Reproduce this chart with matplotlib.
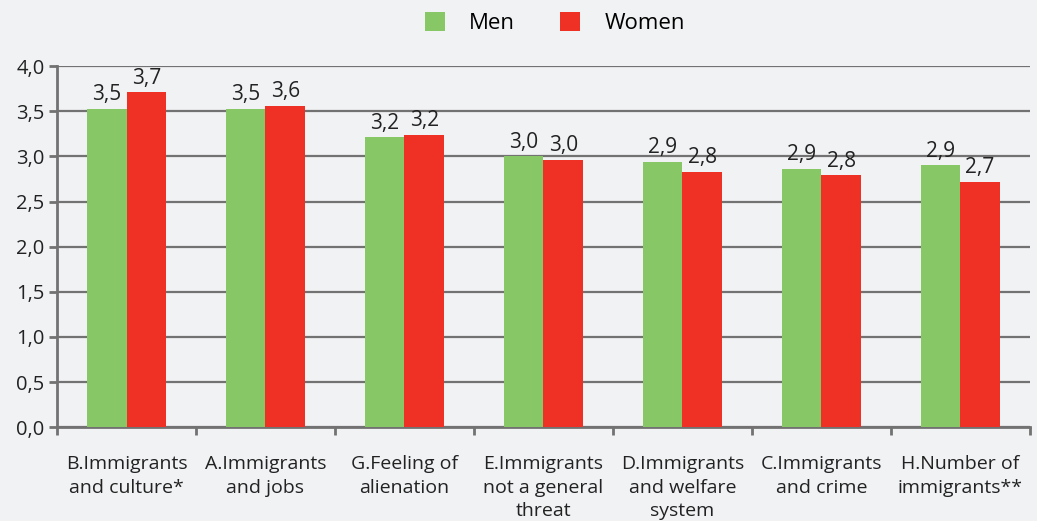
import numpy as np
import matplotlib.pyplot as plt

# данные
categories = ['B.Immigrants\nand culture*', 'A.Immigrants\nand jobs', 'G.Feeling of\nalienation',
              'E.Immigrants\nnot a general\nthreat', 'D.Immigrants\nand welfare\nsystem',
              'C.Immigrants\nand crime', 'H.Number of\nimmigrants**']
men = [3.53, 3.53, 3.21, 3.00, 2.94, 2.86, 2.90]
women = [3.71, 3.56, 3.24, 2.96, 2.83, 2.79, 2.72]
yticks = [0.0, 0.5, 1.0, 1.5, 2.0, 2.5, 3.0, 3.5, 4.0]

bg = '#f1f2f4'
green = '#88c766'
red = '#ee3124'
grid_c = '#727272'
plt.rcParams['font.family'] = ['Open Sans', 'DejaVu Sans']

fig = plt.figure(figsize=(10.37, 5.21), dpi=100, facecolor=bg)
ax = fig.add_axes([0.055, 0.180, 0.938, 0.693], facecolor=bg)

x = np.arange(len(categories))
w = 0.285
b1 = ax.bar(x - w / 2, men, w, color=green, label='Men', zorder=3)
b2 = ax.bar(x + w / 2, women, w, color=red, label='Women', zorder=3)

for bars, vals in ((b1, men), (b2, women)):
    for rect, v in zip(bars, vals):
        ax.text(rect.get_x() + rect.get_width() / 2, v + 0.04, f'{v:.1f}'.replace('.', ','),
                ha='center', va='bottom', fontsize=15, color='#222222', zorder=4)

ax.set_xlim(-0.5, len(categories) - 0.5)
ax.set_ylim(0, 4.0)
ax.set_yticks(yticks)
ax.set_yticklabels([f'{t:.1f}'.replace('.', ',') for t in yticks], fontsize=14.5, color='#222222')
ax.yaxis.grid(True, color=grid_c, linewidth=1.6, zorder=0)

# x: метки категорий, засечки на границах
ax.set_xticks(x)
ax.set_xticklabels(categories, fontsize=14, color='#222222', linespacing=1.4)
ax.tick_params(axis='x', length=0, pad=20)
ax.set_xticks(np.arange(len(categories) + 1) - 0.5, minor=True)
ax.tick_params(axis='x', which='minor', length=6, width=2, color=grid_c)
ax.tick_params(axis='y', length=6, width=2, color=grid_c, pad=3)

for s in ['top', 'right']:
    ax.spines[s].set_visible(False)
for s in ['left', 'bottom']:
    ax.spines[s].set_color(grid_c)
    ax.spines[s].set_linewidth(2)

fig.legend(loc='upper center', bbox_to_anchor=(0.535, 1.015), ncol=2, frameon=False,
           fontsize=16, handlelength=0.9, handleheight=0.9, columnspacing=2.0, handletextpad=1.1)

fig.savefig('out.png', dpi=100, facecolor=bg)
